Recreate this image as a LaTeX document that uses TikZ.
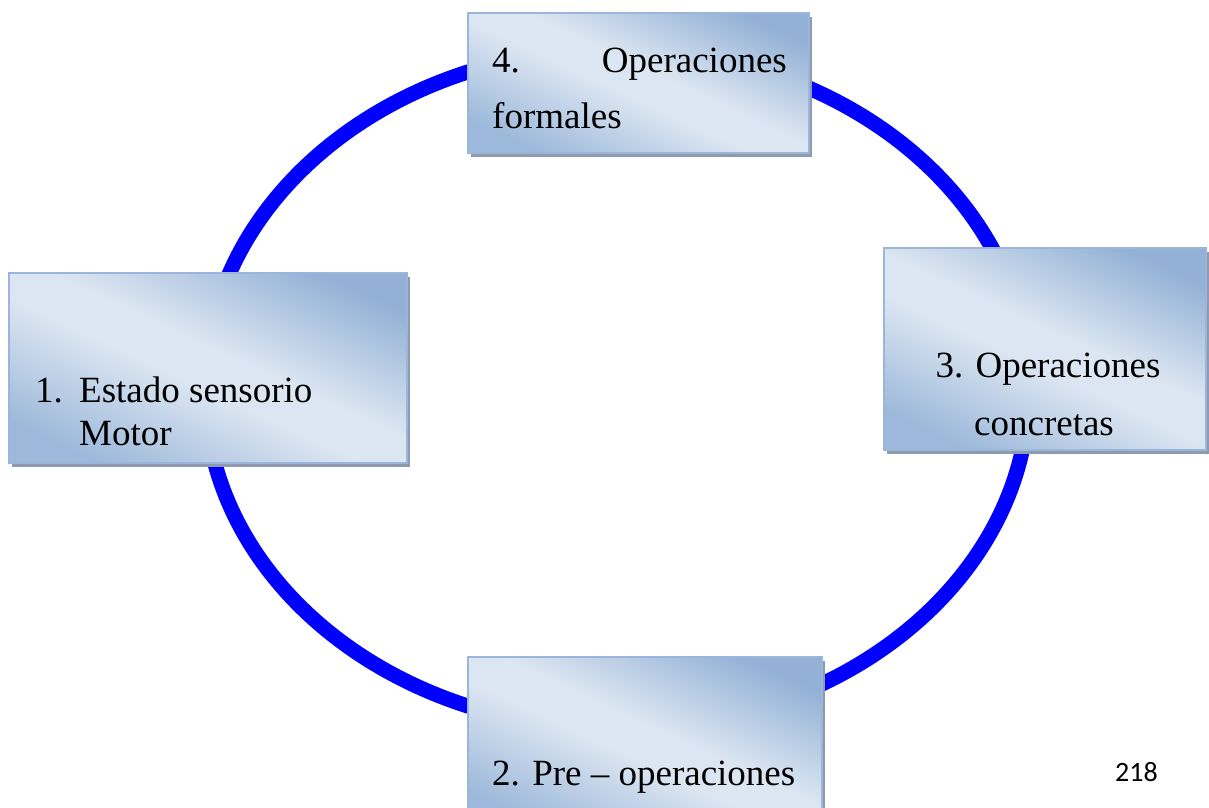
\documentclass[tikz,border=0pt]{standalone}
\usepackage{fontspec}
\setmainfont{Liberation Serif}
\newfontfamily\pagefont{Carlito}
\usetikzlibrary{shadows}
\definecolor{boxdark}{HTML}{93B1D6}
\definecolor{boxlight}{HTML}{DCE6F2}
\definecolor{boxmid}{HTML}{9CB8DA}
\definecolor{boxedge}{HTML}{9BB6DA}
\definecolor{boxshadow}{HTML}{8E9BAE}
\definecolor{ringblue}{HTML}{0000FF}
\pgfdeclareverticalshading{boxshade}{100bp}{color(0bp)=(boxmid); color(24bp)=(boxmid); color(46bp)=(boxlight); color(54bp)=(boxlight); color(76bp)=(boxdark); color(100bp)=(boxdark)}
\tikzset{
  stagebox/.style={rectangle, draw=boxedge, line width=1.5pt, inner sep=0pt,
    shading=boxshade, shading angle=-25,
    drop shadow={shadow xshift=3pt, shadow yshift=-4pt, fill=boxshadow, opacity=1}},
  lbl/.style={inner sep=0pt, font=\fontsize{37}{44}\selectfont},
  ring/.style={draw=ringblue, line width=15pt}
}
\begin{document}
\begin{tikzpicture}[x=1pt,y=-1pt]
\useasboundingbox (0,0) rectangle (1209,807);
\clip (0,0) rectangle (1209,807);
\coordinate (c) at (617,389);
\draw[ring] (c) ellipse [x radius=412pt, y radius=340pt];
\node[stagebox, minimum width=341pt, minimum height=140pt] (b4) at (638.5,83) {};
\node[stagebox, minimum width=398pt, minimum height=190pt] (b1) at (208,368) {};
\node[stagebox, minimum width=322pt, minimum height=202pt] (b3) at (1045,349) {};
\node[stagebox, minimum width=354pt, minimum height=173pt] (b2) at (645,743.5) {};
\node[lbl, anchor=base west] (t4a) at (492,72) {4.};
\node[lbl, anchor=base east] (t4b) at (787,72) {Operaciones};
\node[lbl, anchor=base west] (t4c) at (492,128) {formales};
\node[lbl, anchor=base west] (t1a) at (35,402) {1.};
\node[lbl, anchor=base west] (t1b) at (79,402) {Estado sensorio};
\node[lbl, anchor=base west] (t1c) at (79,445) {Motor};
\node[lbl, anchor=base] (t3a) at (1048,377) {3. Operaciones};
\node[lbl, anchor=base] (t3b) at (1044,435) {concretas};
\node[lbl, anchor=base west] (t2) at (492,785) {2. Pre – operaciones};
\node[inner sep=0pt, anchor=base west, font=\pagefont\fontsize{28}{32}\selectfont] (pg) at (1115,781) {218};
\end{tikzpicture}
\end{document}
